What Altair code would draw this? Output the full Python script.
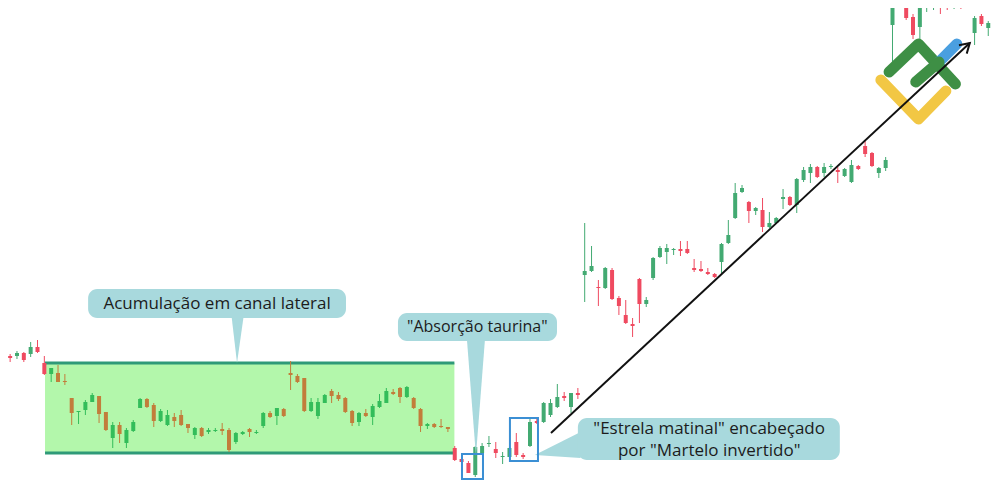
import altair as alt
import pandas as pd

# ---------------- data (time index and OHLC prices) ----------------
day = list(range(0, 131)) + list(range(132, 146))

open_ = [152, 144, 144, 147, 146, 153, 137, 126, 127, 119,
         102, 88, 90, 98, 104, 88, 62, 75, 57, 69,
         92, 101, 95, 79, 75, 83, 85, 76, 65, 72,
         68, 69, 71, 70, 58, 66, 71, 67, 74, 87,
         84, 91, 127, 124, 122, 89, 84, 97, 109, 105,
         102, 89, 78, 87, 83, 93, 97, 108, 112, 103,
         102, 91, 74, 76, 74, 73, 52, 41, 37, 25,
         47, 56, 51, 43, 43, 58, 45, 54, 79, 78,
         85, 93, 104, 93, 107, 225, 229, 213, 212, 230,
         202, 185, 176, 221, 196, 222, 243, 248, 250, 251,
         251, 232, 231, 228, 226, 238, 257, 282, 308, 298,
         289, 290, 273, 277, 301, 303, 295, 320, 327, 333,
         327, 333, 330, 324, 318, 334, 354, 347, 327, 332,
         475, 502, 483, 473, 494, 494, 498, 499, 495, 498,
         494, 467, 484, 472, 477]

high = [153, 146, 149, 148, 158, 160, 144, 132, 135, 126,
        102, 89, 100, 107, 104, 88, 78, 78, 72, 80,
        102, 102, 97, 91, 90, 87, 90, 76, 73, 73,
        72, 72, 77, 72, 68, 69, 72, 70, 88, 89,
        92, 92, 139, 126, 122, 102, 102, 106, 111, 108,
        103, 90, 88, 91, 96, 106, 112, 111, 113, 114,
        103, 92, 77, 77, 81, 73, 54, 42, 39, 54,
        57, 64, 58, 48, 53, 67, 47, 81, 81, 98,
        101, 116, 108, 107, 112, 277, 254, 220, 233, 232,
        204, 200, 182, 222, 203, 243, 254, 256, 252, 259,
        259, 241, 239, 232, 227, 257, 280, 317, 315, 299,
        293, 302, 288, 283, 311, 304, 322, 333, 336, 334,
        337, 336, 333, 332, 340, 335, 360, 348, 333, 343,
        510, 505, 486, 497, 500, 500, 500, 502, 500, 500,
        500, 484, 486, 479, 479]

low = [141, 138, 141, 138, 143, 147, 125, 118, 118, 115,
       75, 76, 85, 98, 77, 69, 52, 57, 52, 68,
       92, 92, 73, 78, 74, 73, 74, 67, 61, 63,
       66, 68, 65, 48, 56, 65, 63, 66, 72, 82,
       75, 83, 110, 117, 88, 88, 81, 97, 97, 99,
       87, 74, 74, 83, 75, 92, 97, 105, 97, 102,
       91, 68, 71, 72, 72, 68, 39, 37, 27, 23,
       47, 53, 42, 36, 43, 43, 41, 53, 76, 77,
       83, 92, 99, 87, 101, 198, 228, 194, 211, 200,
       185, 176, 163, 177, 193, 220, 242, 236, 245, 244,
       246, 228, 228, 225, 222, 227, 256, 281, 307, 277,
       285, 268, 272, 276, 291, 294, 287, 318, 317, 322,
       323, 331, 317, 323, 317, 330, 343, 333, 322, 329,
       438, 480, 461, 448, 488, 490, 486, 490, 491, 491,
       492, 455, 474, 464, 471]

close = [142, 142, 147, 140, 153, 148, 126, 132, 118, 118,
         87, 89, 98, 105, 86, 70, 75, 66, 70, 78,
         101, 93, 79, 89, 85, 79, 75, 72, 72, 64,
         70, 70, 69, 50, 67, 68, 68, 68, 87, 83,
         92, 84, 125, 118, 89, 98, 98, 105, 104, 101,
         88, 77, 87, 84, 94, 99, 109, 106, 103, 113,
         92, 74, 76, 73, 73, 71, 40, 38, 27, 53,
         54, 57, 47, 44, 52, 45, 43, 78, 77, 97,
         97, 103, 102, 107, 105, 229, 234, 212, 232, 201,
         194, 177, 174, 196, 200, 242, 252, 252, 251, 249,
         247, 230, 229, 226, 223, 256, 265, 307, 312, 289,
         292, 273, 277, 282, 303, 295, 321, 330, 333, 323,
         333, 334, 328, 331, 335, 331, 346, 334, 332, 340,
         505, 482, 465, 495, 498, 497, 492, 495, 498, 495,
         497, 482, 476, 477, 473]

# sideways channel (day range, price range)
channel_days = [6.1, 65.95]
channel_prices = [47, 137]

# callouts: box (days, prices), labels, pointer polygons
callout_names = ["canal", "absorcao", "estrela"]
callout_box_d0 = [12.4, 57.7, 84.0]
callout_box_d1 = [50.1, 80.95, 122.3]
callout_box_p0 = [182, 159, 40]
callout_box_p1 = [211, 187, 82]

label_text = ["Acumulação em canal lateral", "\"Absorção taurina\"",
              "\"Estrela matinal\" encabeçado", "por \"Martelo invertido\""]
label_day = [31.25, 69.3, 103.2, 103.2]
label_price = [196.5, 173, 71, 49.5]
label_size = [17, 16, 17, 17]

pointer_callout = ["canal", "canal", "canal", "absorcao", "absorcao", "absorcao", "estrela", "estrela"]
pointer_day = [33.4, 34.17, 35.1, 67.8, 69.1, 70.4, 77.7, 84.4]
pointer_top = [182, 182, 182, 159, 159, 159, 45, 68]
pointer_bot = [182, 137, 182, 159, 44, 159, 45, 42]

# highlighted pattern boxes
pattern_d0 = [67.06, 74.07]
pattern_d1 = [70.13, 78.17]
pattern_p0 = [21, 39]
pattern_p1 = [46, 82]

# trend arrow
arrow_day = [80.07, 141.3]
arrow_price = [67, 457]

# logo strokes
logo_green_day = [129.5, 133.8, 139.2]
logo_green_price = [428, 456, 416]
logo_mid_day = [133.4, 136.8]
logo_mid_price = [418, 438]
logo_blue_day = [136.8, 139.4]
logo_blue_price = [438, 456]
logo_yellow_day = [128.3, 133.8, 137.8]
logo_yellow_price = [420, 381, 409]

# ---------------- colours ----------------
RED = "#ef4a60"
GREEN = "#43aa72"
CH_GREEN = "#33bd5a"
CH_BROWN = "#c27d3b"
CH_FILL = "#b3f7ab"
CH_LINE = "#2f9a78"
CALLOUT = "#a8d9dd"
BLUE = "#3b8fd4"

# ---------------- frames ----------------
candles = pd.DataFrame({"day": day, "open": open_, "high": high, "low": low, "close": close})
inside = (candles["day"] > channel_days[0]) & (candles["day"] < channel_days[1])
up = candles["close"] >= candles["open"]
candles["style"] = [("ch_" if i else "") + ("up" if u else "down") for i, u in zip(inside, up)]

X_STEP, X_ZERO = 6.84, 3.3
xs = alt.Scale(domain=[(8 - X_ZERO) / X_STEP, (992 - X_ZERO) / X_STEP], nice=False, zero=False, padding=0)
ys = alt.Scale(domain=[6, 492], nice=False, zero=False, padding=0)


def X(f):
    return alt.X(f, type="quantitative", scale=xs, axis=None)


def Y(f):
    return alt.Y(f, type="quantitative", scale=ys, axis=None)


color = alt.Color("style:N", legend=None,
                  scale=alt.Scale(domain=["up", "down", "ch_up", "ch_down"],
                                  range=[GREEN, RED, CH_GREEN, CH_BROWN]))

ch_df = pd.DataFrame({"d0": [channel_days[0]], "d1": [channel_days[1]],
                      "p0": [channel_prices[0]], "p1": [channel_prices[1]]})
ch_lines = pd.DataFrame({"d0": [channel_days[0]] * 2, "d1": [channel_days[1]] * 2, "p": channel_prices})

channel = alt.Chart(ch_df).mark_rect(color=CH_FILL).encode(x=X("d0"), x2="d1", y=Y("p0"), y2="p1")
channel_border = alt.Chart(ch_lines).mark_rule(color=CH_LINE, strokeWidth=3).encode(x=X("d0"), x2="d1", y=Y("p"))

wicks = alt.Chart(candles).mark_rule(strokeWidth=1).encode(x=X("day"), y=Y("low"), y2="high", color=color)
bodies = alt.Chart(candles).mark_bar(size=4).encode(x=X("day"), y=Y("open"), y2="close", color=color)

box_df = pd.DataFrame({"name": callout_names, "d0": callout_box_d0, "d1": callout_box_d1,
                       "p0": callout_box_p0, "p1": callout_box_p1})
boxes = alt.Chart(box_df).mark_rect(color=CALLOUT, cornerRadius=9).encode(x=X("d0"), x2="d1", y=Y("p0"), y2="p1")

ptr_df = pd.DataFrame({"name": pointer_callout, "d": pointer_day, "top": pointer_top, "bot": pointer_bot})
pointers = alt.Chart(ptr_df).mark_area(color=CALLOUT, interpolate="linear").encode(
    x=X("d"), y=Y("top"), y2="bot", detail="name:N")

lab_df = pd.DataFrame({"t": label_text, "d": label_day, "p": label_price, "s": label_size})
labels = alt.Chart(lab_df).mark_text(font="Open Sans", fontWeight=500, color="#1c1c1c",
                                     align="center", baseline="middle").encode(
    x=X("d"), y=Y("p"), text="t:N", size=alt.Size("s:Q", scale=None, legend=None))

pat_df = pd.DataFrame({"d0": pattern_d0, "d1": pattern_d1, "p0": pattern_p0, "p1": pattern_p1})
patterns = alt.Chart(pat_df).mark_rect(fillOpacity=0, stroke=BLUE, strokeWidth=2).encode(
    x=X("d0"), x2="d1", y=Y("p0"), y2="p1")

arrow_df = pd.DataFrame({"d": arrow_day, "p": arrow_price})
arrow = alt.Chart(arrow_df).mark_line(color="#111111", strokeWidth=2).encode(x=X("d"), y=Y("p"))
arrow_head = alt.Chart(arrow_df.tail(1)).mark_point(
    shape="M-1,-0.6L0,0L-1,0.6", size=360, angle=317.1, filled=False,
    strokeWidth=2, color="#111111", opacity=1).encode(x=X("d"), y=Y("p"))


def stroke(days, prices, col):
    df = pd.DataFrame({"d": days, "p": prices, "k": list(range(len(days)))})
    return alt.Chart(df).mark_line(color=col, strokeWidth=11, strokeCap="round", strokeJoin="round").encode(
        x=X("d"), y=Y("p"), order="k:Q")


logo = (stroke(logo_yellow_day, logo_yellow_price, "#f2c744")
        + stroke(logo_green_day, logo_green_price, "#3e8f45")
        + stroke(logo_blue_day, logo_blue_price, "#4a9fe0")
        + stroke(logo_mid_day, logo_mid_price, "#3e8f45"))

chart = alt.layer(
    channel, channel_border, wicks, bodies, pointers, boxes, labels, patterns, logo, arrow, arrow_head
).properties(
    width=984, height=486, padding=0,
    autosize=alt.AutoSizeParams(type="none"),
    background="white",
).configure_view(strokeWidth=0)

chart.save("out.html", embed_options={"renderer": "svg", "actions": False})
